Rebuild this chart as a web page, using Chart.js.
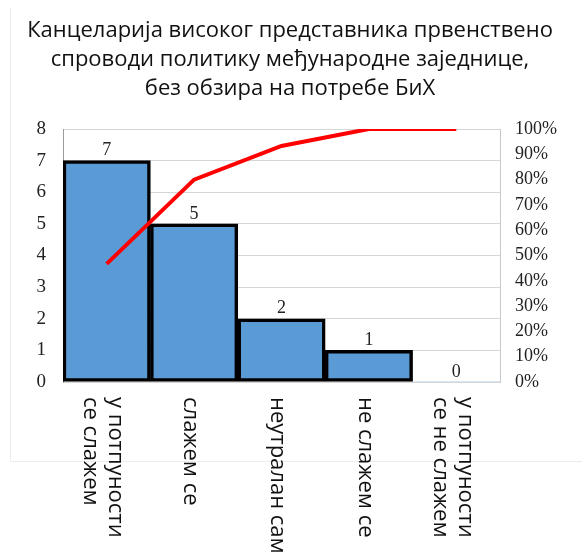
<!DOCTYPE html>
<html>
<head>
<meta charset="utf-8">
<script src="https://cdn.jsdelivr.net/npm/chart.js@4.4.1/dist/chart.umd.min.js"></script>
<style>
  html, body { margin: 0; padding: 0; background: #fff; }
  canvas { display: block; }
</style>
</head>
<body>
<canvas id="paretoChart" width="582" height="554"></canvas>
<script>
// Chart data
const titleLines = [
    'Канцеларија високог представника првенствено',
    'спроводи политику међународне заједнице,',
    'без обзира на потребе БиХ'
];
const categories = [
    ['у потпуности', 'се слажем'],
    ['слажем се'],
    ['неутралан сам'],
    ['не слажем се'],
    ['у потпуности', 'се не слажем']
];
const counts = [7, 5, 2, 1, 0];
const cumulativePct = [46.7, 80, 93.3, 100, 100];

const serif = '"Liberation Serif", "Times New Roman", serif';
const sans = '"Open Sans", "Noto Sans", sans-serif';

// Draws title, value labels, rotated category labels and faint outer frame
const decorPlugin = {
    id: 'decor',
    beforeDraw(chart) {
        const ctx = chart.ctx;
        ctx.save();
        ctx.strokeStyle = '#ececec';
        ctx.lineWidth = 1;
        ctx.beginPath();
        ctx.moveTo(10.5, 8);
        ctx.lineTo(10.5, 461.5);
        ctx.lineTo(582, 461.5);
        ctx.stroke();
        ctx.restore();
    },
    afterDraw(chart) {
        const ctx = chart.ctx;
        const xScale = chart.scales.x;
        ctx.save();

        // title
        ctx.fillStyle = '#111';
        ctx.font = '22px ' + sans;
        ctx.textAlign = 'center';
        ctx.textBaseline = 'middle';
        titleLines.forEach((line, i) => {
            ctx.fillText(line, 290, 31 + i * 29);
        });

        // bar value labels
        const bars = chart.getDatasetMeta(0).data;
        ctx.font = '18px ' + serif;
        ctx.fillStyle = '#222';
        ctx.textBaseline = 'bottom';
        bars.forEach((bar, i) => {
            ctx.fillText(String(counts[i]), bar.x, bar.y - 1);
        });

        // category labels, rotated to read top to bottom
        ctx.font = '22px ' + sans;
        ctx.fillStyle = '#111';
        ctx.textAlign = 'left';
        ctx.textBaseline = 'middle';
        categories.forEach((lines, i) => {
            const cx = xScale.getPixelForValue(i) - 4;
            ctx.save();
            ctx.translate(cx, 397);
            ctx.rotate(Math.PI / 2);
            lines.forEach((line, k) => {
                const offset = (k - (lines.length - 1) / 2) * 25;
                ctx.fillText(line, 0, offset);
            });
            ctx.restore();
        });

        ctx.restore();
    }
};

new Chart(document.getElementById('paretoChart').getContext('2d'), {
    data: {
        labels: categories.map(c => c.join(' ')),
        datasets: [
            {
                type: 'bar',
                data: counts,
                yAxisID: 'y',
                backgroundColor: '#5b9bd5',
                borderColor: '#000',
                borderWidth: ctx => (counts[ctx.dataIndex] > 0 ? 3.5 : 0),
                borderSkipped: false,
                barPercentage: 1,
                categoryPercentage: 1,
                order: 2
            },
            {
                type: 'line',
                data: cumulativePct,
                yAxisID: 'y1',
                borderColor: '#ff0000',
                borderWidth: 4,
                pointRadius: 0,
                tension: 0,
                fill: false,
                order: 1
            }
        ]
    },
    options: {
        responsive: false,
        animation: false,
        layout: {
            padding: { top: 129, bottom: 172, left: 0, right: 0 }
        },
        plugins: {
            legend: { display: false },
            title: { display: false },
            tooltip: { enabled: false }
        },
        scales: {
            x: {
                display: false
            },
            y: {
                position: 'left',
                min: 0,
                max: 8,
                afterFit: scale => { scale.width = 63; },
                ticks: {
                    stepSize: 1,
                    autoSkip: false,
                    padding: 17,
                    color: '#222',
                    font: { family: serif, size: 19 }
                },
                grid: {
                    color: '#d6d6d6',
                    drawTicks: false
                },
                border: { color: '#9a9a9a', width: 1 }
            },
            y1: {
                position: 'right',
                min: 0,
                max: 100,
                afterFit: scale => { scale.width = 82; },
                ticks: {
                    stepSize: 10,
                    autoSkip: false,
                    padding: 15,
                    color: '#222',
                    font: { family: serif, size: 18 },
                    callback: v => v + '%'
                },
                grid: { display: false, drawTicks: false },
                border: { color: '#c8c8c8', width: 1, dash: [2, 2] }
            }
        }
    },
    plugins: [decorPlugin]
});
</script>
</body>
</html>
